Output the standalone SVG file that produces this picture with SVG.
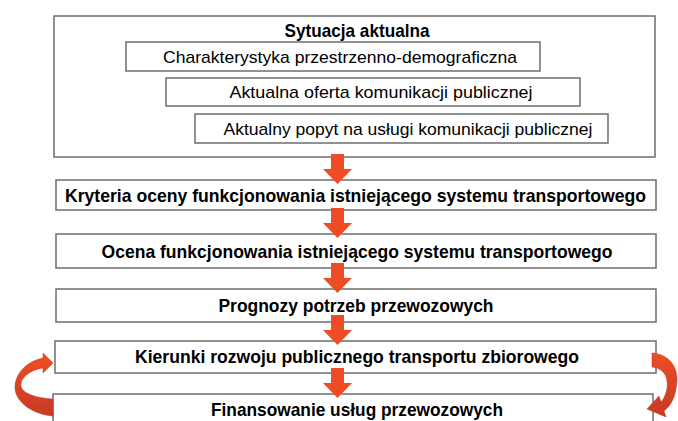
<svg xmlns="http://www.w3.org/2000/svg" width="678" height="421" viewBox="0 0 678 421">
<style>
.box{fill:#ffffff;stroke:#6e6e6e;stroke-width:1.5}
.t{font-family:"Liberation Sans",Arial,sans-serif;font-size:17px;fill:#000;text-anchor:middle}
.b{font-family:"Liberation Sans",Arial,sans-serif;font-size:18.5px;font-weight:bold;fill:#000;text-anchor:middle}
.arr{fill:#EF4B24}
.curve{fill:url(#cg);stroke:#b83520;stroke-width:0.5}
</style>
<defs>
<linearGradient id="cg" x1="0" y1="0" x2="0" y2="1">
<stop offset="0" stop-color="#F04E23"/>
<stop offset="1" stop-color="#C63A26"/>
</linearGradient>
</defs>
<rect width="678" height="421" fill="#ffffff"/>
<g id="sytuacja">
<rect class="box" x="54" y="16" width="601" height="141"/>
<text class="b" x="357" y="37" textLength="145" lengthAdjust="spacingAndGlyphs">Sytuacja aktualna</text>
</g>
<g id="charakterystyka">
<rect class="box" x="126" y="42" width="414" height="29"/>
<text class="t" x="340" y="63" textLength="354" lengthAdjust="spacingAndGlyphs">Charakterystyka przestrzenno-demograficzna</text>
</g>
<g id="oferta">
<rect class="box" x="166" y="78" width="414" height="28"/>
<text class="t" x="381" y="98" textLength="303" lengthAdjust="spacingAndGlyphs">Aktualna oferta komunikacji publicznej</text>
</g>
<g id="popyt">
<rect class="box" x="195" y="114" width="413" height="29"/>
<text class="t" x="408" y="135" textLength="369" lengthAdjust="spacingAndGlyphs">Aktualny popyt na usługi komunikacji publicznej</text>
</g>
<g id="kryteria">
<rect class="box" x="56" y="180" width="600" height="30"/>
<text class="b" x="355.5" y="202" textLength="581" lengthAdjust="spacingAndGlyphs">Kryteria oceny funkcjonowania istniejącego systemu transportowego</text>
</g>
<g id="ocena">
<rect class="box" x="56" y="234" width="600" height="34"/>
<text class="b" x="357" y="257.5" textLength="511" lengthAdjust="spacingAndGlyphs">Ocena funkcjonowania istniejącego systemu transportowego</text>
</g>
<g id="prognozy">
<rect class="box" x="56" y="289" width="600" height="33"/>
<text class="b" x="356" y="311.5" textLength="275" lengthAdjust="spacingAndGlyphs">Prognozy potrzeb przewozowych</text>
</g>
<g id="kierunki">
<rect class="box" x="55" y="341" width="601" height="32"/>
<text class="b" x="357" y="362.5" textLength="444" lengthAdjust="spacingAndGlyphs">Kierunki rozwoju publicznego transportu zbiorowego</text>
</g>
<g id="finansowanie">
<rect class="box" x="53" y="394" width="600" height="40"/>
<text class="b" x="357" y="416" textLength="292" lengthAdjust="spacingAndGlyphs">Finansowanie usług przewozowych</text>
</g>
<g id="connectors">
<path class="arr" d="M331 154 H344 V169 H352 L337.5 184 L323 169 H331 Z"/>
<path class="arr" d="M331 208 H344 V223 H352 L337.5 238 L323 223 H331 Z"/>
<path class="arr" d="M331 263 H344 V278 H352 L337.5 293 L323 278 H331 Z"/>
<path class="arr" d="M331 315 H344 V330 H352 L337.5 345 L323 330 H331 Z"/>
<path class="arr" d="M331 368 H344 V383 H352 L337.5 398 L323 383 H331 Z"/>
<path class="curve" d="M53 416 C30 414 14 400 15 386 C16 372 28 361 43 358 L43 353 L53 363 L43 373 L43 368 C30 370 20 378 21 386 C22 393 35 398 53 399 Z"/>
<path class="curve" d="M652 353 C668 354 678 366 677 381 C676 395 672 405 664 411 L666 417 L647 409 L659 396 L661 402 C666 396 668 388 667 381 C666 372 660 368 652 367 Z"/>
</g>
</svg>
